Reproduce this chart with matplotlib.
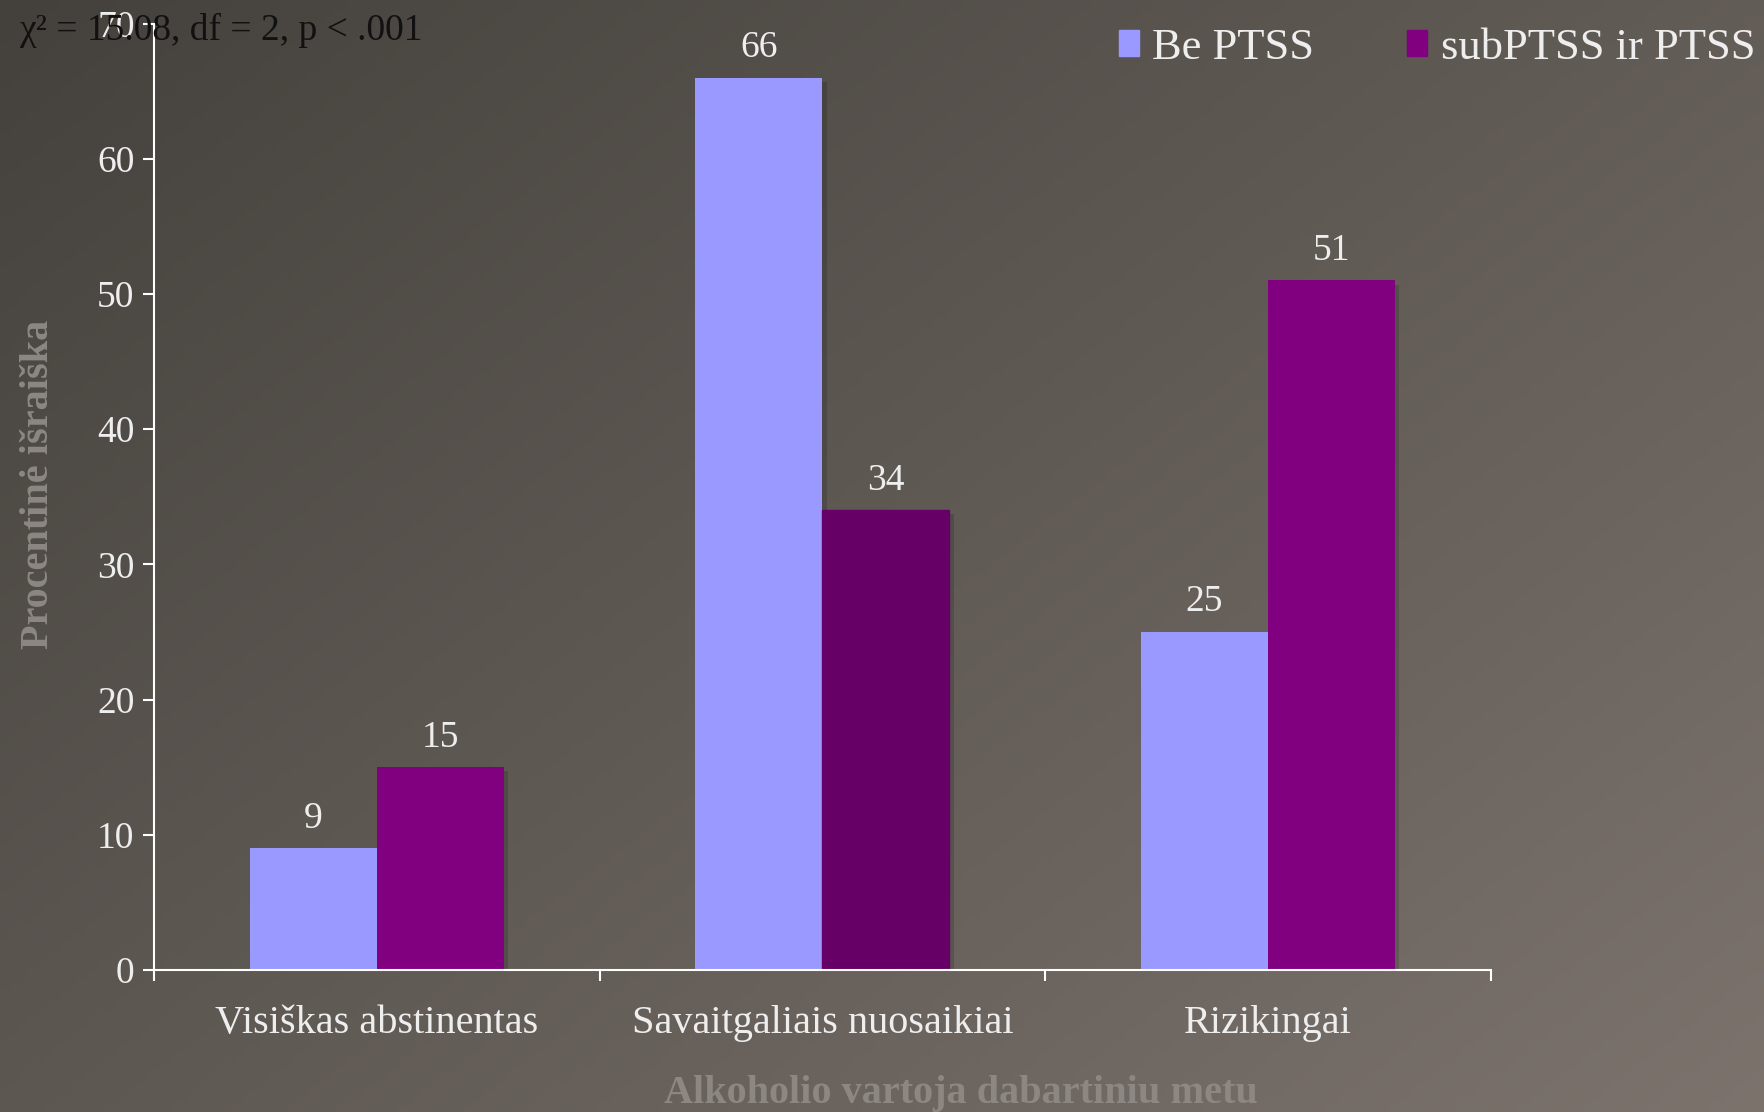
import numpy as np
import matplotlib
matplotlib.use("Agg")
import matplotlib.pyplot as plt
import matplotlib.patheffects as pe
from matplotlib.patches import Patch

# DATA
categories = ["Visiškas abstinentas", "Savaitgaliais nuosaikiai", "Rizikingai"]
be_ptss = [9, 66, 25]
sub_ptss = [15, 34, 51]
series_names = ["Be PTSS", "subPTSS ir PTSS"]
yticks = [0, 10, 20, 30, 40, 50, 60, 70]
stat_text = "χ² = 15.08, df = 2, p < .001"
ylabel = "Procentinė išraiška"
xlabel = "Alkoholio vartoja dabartiniu metu"

plt.rcParams["font.family"] = ["Liberation Serif", "DejaVu Serif"]

light = "#9999ff"
purple = "#800080"
purple_dark = "#660066"
txt = "#eeeeee"
grey_lbl = "#8c8782"

fig = plt.figure(figsize=(17.64, 11.12), dpi=100)

# background gradient
bg = fig.add_axes([0, 0, 1, 1], zorder=-10)
h, w = 200, 320
yy, xx = np.mgrid[0:h, 0:w]
t = (xx / w * 0.55 + yy / h * 0.45)
c0 = np.array([0x44, 0x41, 0x3c]) / 255
c1 = np.array([0x7c, 0x73, 0x6d]) / 255
img = c0[None, None, :] + (c1 - c0)[None, None, :] * t[:, :, None]
bg.imshow(img, aspect="auto", extent=[0, 1, 0, 1], origin="upper")
bg.axis("off")

ax = fig.add_axes([0.0873, 0.1277, 0.7578, 0.8511])
ax.patch.set_alpha(0)

x = np.arange(len(categories))
bw = 0.285
shadow = [pe.SimplePatchShadow(offset=(3, -3), shadow_rgbFace="black", alpha=0.15), pe.Normal()]
b1 = ax.bar(x - bw / 2, be_ptss, bw, color=light, path_effects=shadow)
b2 = ax.bar(x + bw / 2, sub_ptss, bw, color=purple, path_effects=shadow)
b2[1].set_color(purple_dark)

for bars, vals in ((b1, be_ptss), (b2, sub_ptss)):
    for b, v in zip(bars, vals):
        ax.annotate(str(v), (b.get_x() + b.get_width() / 2, v), xytext=(0, 9),
                    textcoords="offset points", ha="center", va="bottom",
                    fontsize=27, color=txt)

ax.set_xlim(-0.5, 2.5)
ax.set_ylim(0, 70)
ax.set_yticks(yticks)
ax.set_xticks([-0.5, 0.5, 1.5, 2.5])
ax.set_xticklabels([])
ax.set_xticks(x, minor=True)
ax.set_xticklabels(categories, minor=True)
ax.tick_params(axis="x", which="major", length=8, width=1.5, color="white", direction="out")
ax.tick_params(axis="x", which="minor", length=0, pad=25, labelsize=29, labelcolor=txt)
ax.tick_params(axis="y", length=8, width=1.5, color="white", pad=6, labelsize=27, labelcolor=txt)

for s in ["top", "right"]:
    ax.spines[s].set_visible(False)
for s in ["left", "bottom"]:
    ax.spines[s].set_color("white")
    ax.spines[s].set_linewidth(1.5)

fig.text(0.011, 0.973, stat_text, fontsize=27, color="#111111", va="center", ha="left")
fig.text(0.022, 0.564, ylabel, rotation=90, fontsize=29, fontweight="bold",
         color=grey_lbl, ha="center", va="center")
fig.text(0.545, 0.017, xlabel, fontsize=29, fontweight="bold",
         color=grey_lbl, ha="center", va="center")

handles = [Patch(color=light), Patch(color=purple)]
fig.legend(handles=handles, labels=series_names, loc="center left",
           bbox_to_anchor=(0.624, 0.957), ncol=2, frameon=False,
           fontsize=32, labelcolor=txt, handlelength=0.45, handleheight=0.55,
           handletextpad=0.3, columnspacing=2.1, borderaxespad=0)

fig.savefig("out.png", dpi=100)
